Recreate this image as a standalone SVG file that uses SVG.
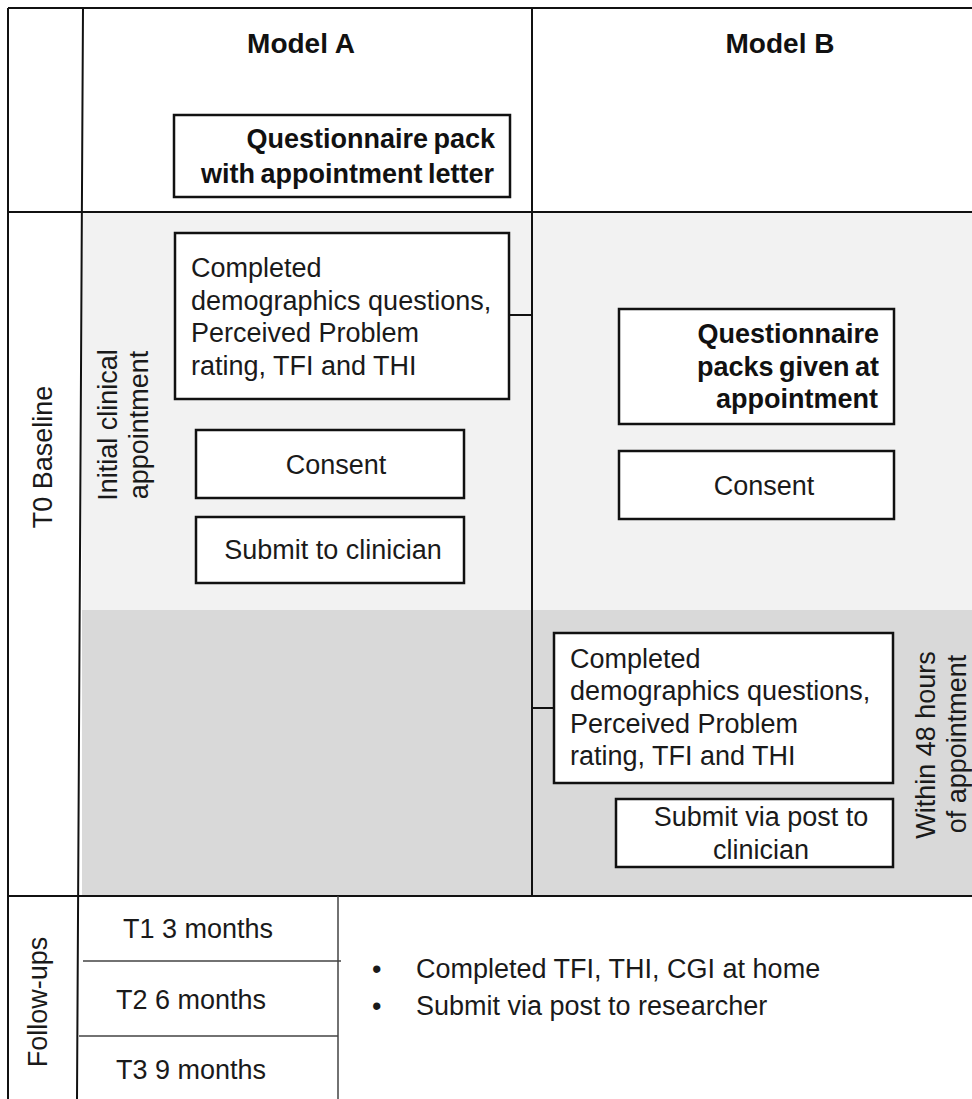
<svg xmlns="http://www.w3.org/2000/svg" width="972" height="1099" viewBox="0 0 972 1099">
<style>
.t{font-family:"Liberation Sans",Arial,sans-serif;font-size:27px;fill:#1a1a1a}
.b{font-family:"Liberation Sans",Arial,sans-serif;font-size:27px;font-weight:bold;fill:#111;word-spacing:-2px}
.h{font-family:"Liberation Sans",Arial,sans-serif;font-size:28px;font-weight:bold;fill:#111}
.box{fill:#fff;stroke:#111;stroke-width:2.5}
.frame{fill:none;stroke:#111;stroke-width:2}
.thin{fill:none;stroke:#444;stroke-width:1.5}
.conn{fill:none;stroke:#111;stroke-width:2}
</style>
<rect x="0" y="0" width="972" height="1099" fill="#fff"/>
<g id="backgrounds">
<rect x="82" y="212" width="890" height="398" fill="#f2f2f2"/>
<rect x="82" y="610" width="890" height="286" fill="#d9d9d9"/>
</g>
<g id="grid">
<path class="frame" d="M8,8 H972 M8,8 V1099 M83,8 L77,1099 M8,212 H972 M8,896 H972 M532,8 V896"/>
<path class="thin" d="M338,896 V1099 M83,961 H341 M79,1036 H338"/>
</g>
<g id="headers">
<text class="h" x="301" y="53" text-anchor="middle">Model A</text>
<text class="h" x="780" y="53" text-anchor="middle">Model B</text>
</g>
<g id="row-labels">
<text class="t" transform="translate(52,457) rotate(-90)" text-anchor="middle">T0 Baseline</text>
<text class="t" transform="translate(117,425) rotate(-90)" text-anchor="middle">Initial clinical</text>
<text class="t" transform="translate(148,425) rotate(-90)" text-anchor="middle">appointment</text>
<text class="t" transform="translate(47,1002) rotate(-90)" text-anchor="middle">Follow-ups</text>
<text class="t" transform="translate(935,745) rotate(-90)" text-anchor="middle">Within 48 hours</text>
<text class="t" transform="translate(966,744) rotate(-90)" text-anchor="middle">of appointment</text>
</g>
<g id="connectors">
<path class="conn" d="M509,315 H532"/>
<path class="conn" d="M532,708 H554"/>
</g>
<g id="a-pack">
<rect class="box" x="174" y="115" width="336" height="82"/>
<text class="b" x="495" y="148" text-anchor="end">Questionnaire pack</text>
<text class="b" x="494" y="183" text-anchor="end">with appointment letter</text>
</g>
<g id="a-completed">
<rect class="box" x="175" y="233" width="334" height="166"/>
<text class="t" x="191" y="277">Completed</text>
<text class="t" x="191" y="310">demographics questions,</text>
<text class="t" x="191" y="342">Perceived Problem</text>
<text class="t" x="191" y="375">rating, TFI and THI</text>
</g>
<g id="a-consent">
<rect class="box" x="196" y="430" width="268" height="68"/>
<text class="t" x="336" y="474" text-anchor="middle">Consent</text>
</g>
<g id="a-submit">
<rect class="box" x="196" y="517" width="268" height="66"/>
<text class="t" x="333" y="559" text-anchor="middle">Submit to clinician</text>
</g>
<g id="b-pack">
<rect class="box" x="619" y="309" width="275" height="115"/>
<text class="b" x="879" y="343" text-anchor="end">Questionnaire</text>
<text class="b" x="879" y="376" text-anchor="end">packs given at</text>
<text class="b" x="878" y="408" text-anchor="end">appointment</text>
</g>
<g id="b-consent">
<rect class="box" x="619" y="451" width="275" height="68"/>
<text class="t" x="764" y="495" text-anchor="middle">Consent</text>
</g>
<g id="b-completed">
<rect class="box" x="554" y="633" width="339" height="150"/>
<text class="t" x="570" y="668">Completed</text>
<text class="t" x="570" y="700">demographics questions,</text>
<text class="t" x="570" y="733">Perceived Problem</text>
<text class="t" x="570" y="765">rating, TFI and THI</text>
</g>
<g id="b-submit">
<rect class="box" x="616" y="799" width="277" height="68"/>
<text class="t" x="761" y="826" text-anchor="middle">Submit via post to</text>
<text class="t" x="761" y="859" text-anchor="middle">clinician</text>
</g>
<g id="followups">
<text class="t" x="123" y="938">T1 3 months</text>
<text class="t" x="116" y="1009">T2 6 months</text>
<text class="t" x="116" y="1079">T3 9 months</text>
<text class="t" x="372" y="978">•</text>
<text class="t" x="416" y="978">Completed TFI, THI, CGI at home</text>
<text class="t" x="372" y="1015">•</text>
<text class="t" x="416" y="1015">Submit via post to researcher</text>
</g>
</svg>
